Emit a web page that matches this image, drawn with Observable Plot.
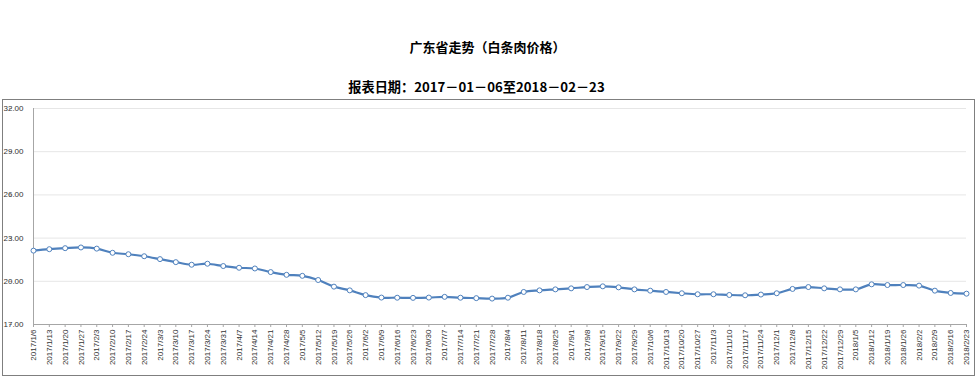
<!DOCTYPE html>
<html>
<head>
<meta charset="utf-8">
<script src="https://cdn.jsdelivr.net/npm/d3@7"></script>
<script src="https://cdn.jsdelivr.net/npm/@observablehq/plot@0.6"></script>
<style>
  html, body { margin: 0; padding: 0; background: #fff; }
  #wrap { position: relative; width: 979px; height: 383px; overflow: hidden; }
  .title, .subtitle { position: absolute; width: 979px; text-align: center;
    font-family: "Noto Sans CJK SC", sans-serif; font-weight: bold; color: #000; line-height: 1; }
  .title { top: 40px; left: -2px; font-size: 13px; }
  .subtitle { top: 80px; left: -13px; font-size: 13.2px; }
  #frame { position: absolute; left: 2px; top: 99px; width: 971px; height: 275px; border: 1.5px solid #7f7f7f; }
  #chart { position: absolute; left: 0; top: 99px; }
</style>
</head>
<body>
<div id="wrap">
  <div class="title">广东省走势（白条肉价格）</div>
  <div class="subtitle">报表日期：2017－01－06至2018－02－23</div>
  <div id="frame"></div>
  <div id="chart"></div>
</div>
<script>
const dates = [
  "2017/1/6","2017/1/13","2017/1/20","2017/1/27","2017/2/3","2017/2/10","2017/2/17","2017/2/24",
  "2017/3/3","2017/3/10","2017/3/17","2017/3/24","2017/3/31","2017/4/7","2017/4/14","2017/4/21",
  "2017/4/28","2017/5/5","2017/5/12","2017/5/19","2017/5/26","2017/6/2","2017/6/9","2017/6/16",
  "2017/6/23","2017/6/30","2017/7/7","2017/7/14","2017/7/21","2017/7/28","2017/8/4","2017/8/11",
  "2017/8/18","2017/8/25","2017/9/1","2017/9/8","2017/9/15","2017/9/22","2017/9/29","2017/10/6",
  "2017/10/13","2017/10/20","2017/10/27","2017/11/3","2017/11/10","2017/11/17","2017/11/24","2017/12/1",
  "2017/12/8","2017/12/15","2017/12/22","2017/12/29","2018/1/5","2018/1/12","2018/1/19","2018/1/26",
  "2018/2/2","2018/2/9","2018/2/16","2018/2/23"
];
const prices = [
  22.13, 22.23, 22.30, 22.35, 22.27, 21.98, 21.88, 21.74,
  21.54, 21.33, 21.15, 21.22, 21.06, 20.94, 20.89, 20.64,
  20.45, 20.38, 20.09, 19.63, 19.37, 19.04, 18.87, 18.86,
  18.85, 18.87, 18.92, 18.86, 18.83, 18.80, 18.86, 19.26,
  19.37, 19.44, 19.51, 19.60, 19.65, 19.58, 19.44, 19.35,
  19.26, 19.17, 19.10, 19.10, 19.05, 19.03, 19.08, 19.17,
  19.47, 19.60, 19.51, 19.44, 19.44, 19.79, 19.74, 19.74,
  19.70, 19.35, 19.19, 19.14
];
const yTicks = [17, 20, 23, 26, 29, 32];

const data = dates.map((d, i) => ({date: d, price: prices[i]}));
const blue = "#4f81bd";

const chart = Plot.plot({
  width: 979,
  height: 277,
  marginLeft: 33,
  marginRight: 13,
  marginTop: 9,
  marginBottom: 52,
  style: {fontFamily: "'Liberation Sans', Arial, sans-serif", fontSize: "8px", color: "#333", background: "transparent"},
  x: {type: "point", domain: dates, padding: 0},
  y: {domain: [17, 32]},
  marks: [
    Plot.gridY(yTicks, {stroke: "#e6e6e6", strokeOpacity: 1}),
    Plot.ruleY([17], {stroke: "#a6a6a6"}),
    Plot.ruleX([dates[0]], {y1: 17, y2: 32, stroke: "#a6a6a6"}),
    Plot.axisY(yTicks, {tickFormat: d => d.toFixed(2), tickSize: 3, stroke: "#a6a6a6",
      textAnchor: "start", dx: -21, label: null, fill: "#333"}),
    Plot.axisX({tickRotate: -90, tickSize: 3, tickPadding: 2, stroke: "#a6a6a6", label: null, fill: "#333"}),
    Plot.line(data, {x: "date", y: "price", stroke: blue, strokeWidth: 2.2, curve: "catmull-rom"}),
    Plot.dot(data, {x: "date", y: "price", r: 2.5, stroke: blue, fill: "#fff", strokeWidth: 1})
  ]
});
document.getElementById("chart").appendChild(chart);
</script>
</body>
</html>
